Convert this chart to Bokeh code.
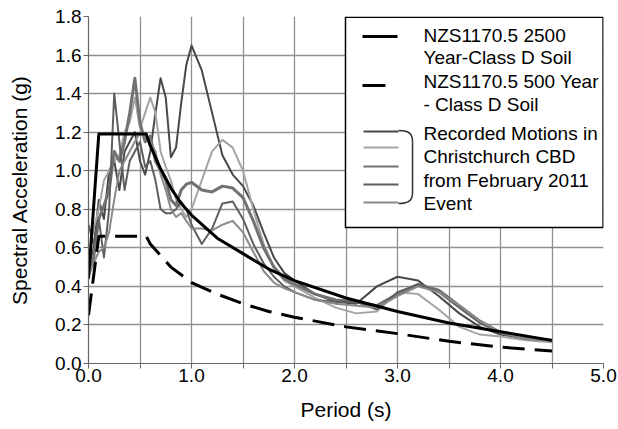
from bokeh.plotting import figure
from bokeh.models import Range1d, FixedTicker
from bokeh.embed import file_html
from bokeh.resources import INLINE
from bokeh.core.properties import value

# ---------------- data ----------------
design_period = [0.0, 0.1, 0.56, 0.6, 0.7, 0.8, 0.9, 1.0, 1.25, 1.5, 1.75, 2.0, 2.5, 3.0, 3.5, 4.0, 4.5]
nzs_2500 = [0.44, 1.19, 1.19, 1.13, 1.01, 0.91, 0.83, 0.77, 0.65, 0.57, 0.49, 0.43, 0.34, 0.27, 0.21, 0.165, 0.12]
nzs_500 = [0.25, 0.66, 0.66, 0.62, 0.56, 0.50, 0.46, 0.42, 0.36, 0.31, 0.27, 0.24, 0.19, 0.155, 0.115, 0.085, 0.065]

rec_period = [0.0, 0.05, 0.1, 0.15, 0.2, 0.25, 0.3, 0.35, 0.4, 0.45, 0.5, 0.55, 0.6, 0.65, 0.7, 0.75,
              0.8, 0.85, 0.9, 0.95, 1.0, 1.1, 1.2, 1.3, 1.4, 1.5, 1.6, 1.7, 1.8, 1.9, 2.0, 2.2, 2.4,
              2.6, 2.8, 3.0, 3.2, 3.4, 3.6, 3.8, 4.0, 4.25, 4.5]
rec_1 = [0.50, 0.60, 0.85, 0.75, 1.00, 1.05, 0.90, 1.10, 1.15, 1.20, 1.05, 0.98, 1.10, 1.30, 1.48, 1.38,
         1.07, 1.12, 1.35, 1.55, 1.65, 1.52, 1.30, 1.08, 0.98, 0.92, 0.82, 0.68, 0.55, 0.47, 0.43, 0.36, 0.32,
         0.31, 0.40, 0.45, 0.43, 0.35, 0.26, 0.19, 0.15, 0.13, 0.12]
rec_2 = [0.55, 0.70, 0.80, 0.95, 1.00, 1.05, 1.08, 1.20, 1.25, 1.38, 1.22, 1.30, 1.38, 1.30, 1.10, 1.02,
         0.95, 0.85, 0.80, 0.76, 0.80, 0.95, 1.10, 1.16, 1.12, 1.00, 0.80, 0.62, 0.50, 0.43, 0.40, 0.34, 0.29,
         0.26, 0.27, 0.37, 0.36, 0.28, 0.19, 0.15, 0.14, 0.12, 0.11]
rec_3 = [0.48, 0.55, 0.75, 0.82, 0.90, 1.10, 1.05, 1.15, 1.30, 1.48, 1.25, 1.15, 1.18, 1.05, 1.00, 0.95,
         0.85, 0.82, 0.90, 0.93, 0.94, 0.90, 0.89, 0.92, 0.91, 0.86, 0.74, 0.60, 0.50, 0.44, 0.41, 0.36, 0.33,
         0.32, 0.30, 0.36, 0.41, 0.38, 0.30, 0.22, 0.16, 0.13, 0.12]
rec_4 = [0.72, 0.62, 0.75, 0.55, 0.80, 1.40, 1.15, 0.90, 1.05, 1.10, 1.15, 1.02, 1.05, 0.95, 0.80, 0.78,
         0.78, 0.80, 0.84, 0.80, 0.72, 0.62, 0.70, 0.83, 0.84, 0.75, 0.62, 0.52, 0.45, 0.40, 0.37, 0.33, 0.32,
         0.32, 0.28, 0.37, 0.41, 0.37, 0.29, 0.21, 0.16, 0.13, 0.12]
rec_5 = [0.45, 0.52, 0.58, 0.60, 0.68, 0.85, 1.00, 1.05, 1.10, 1.15, 1.20, 1.18, 1.15, 1.10, 0.98, 0.90,
         0.80, 0.76, 0.78, 0.74, 0.70, 0.70, 0.69, 0.72, 0.74, 0.68, 0.58, 0.48, 0.42, 0.39, 0.37, 0.33, 0.31,
         0.30, 0.29, 0.35, 0.40, 0.37, 0.30, 0.22, 0.16, 0.13, 0.12]

x_ticks = [0, 1, 2, 3, 4, 5]
y_ticks = [0.0, 0.2, 0.4, 0.6, 0.8, 1.0, 1.2, 1.4, 1.6, 1.8]
x_tick_labels = ["0.0", "1.0", "2.0", "3.0", "4.0", "5.0"]

legend_lines = ["NZS1170.5 2500", "Year-Class D Soil", "NZS1170.5 500 Year", "- Class D Soil",
                "Recorded Motions in", "Christchurch CBD", "from February 2011", "Event"]

# ---------------- figure ----------------
FONT = "Liberation Sans"
p = figure(width=618, height=429, x_range=Range1d(0, 5), y_range=Range1d(0, 1.8),
           output_backend="svg", toolbar_location=None,
           min_border_left=88, min_border_right=15, min_border_top=16, min_border_bottom=66)
p.outline_line_color = None
p.background_fill_color = "white"

p.xaxis.ticker = FixedTicker(ticks=x_ticks, minor_ticks=[0.5, 1.5, 2.5, 3.5, 4.5])
p.xaxis.major_label_overrides = {t: l for t, l in zip(x_ticks, x_tick_labels)}
p.yaxis.ticker = FixedTicker(ticks=y_ticks)
p.yaxis.major_label_overrides = {t: f"{t:.1f}" for t in y_ticks}

for ax in (p.xaxis, p.yaxis):
    ax.axis_line_color = "#666666"
    ax.axis_line_width = 1.2
    ax.major_tick_line_color = "#666666"
    ax.minor_tick_line_color = "#666666"
    ax.major_tick_in = 0
    ax.major_tick_out = 5
    ax.minor_tick_in = 0
    ax.minor_tick_out = 5
    ax.major_label_text_font = FONT
    ax.major_label_text_font_size = "19px"
    ax.major_label_text_color = "black"
    ax.axis_label_text_font = FONT
    ax.axis_label_text_font_size = "21px"
    ax.axis_label_text_font_style = "normal"
    ax.axis_label_text_color = "black"

p.yaxis.minor_tick_line_color = None
p.xaxis.axis_label = "Period (s)"
p.yaxis.axis_label = "Spectral Acceleration (g)"
p.xaxis.major_label_standoff = 0
p.xaxis.axis_label_standoff = 13
p.yaxis.major_label_standoff = 2
p.yaxis.axis_label_standoff = 21

grid_color = "#8f8f8f"
p.xgrid.grid_line_color = grid_color
p.xgrid.grid_line_width = 1.3
p.xgrid.minor_grid_line_color = grid_color
p.xgrid.minor_grid_line_width = 1.3
p.ygrid.grid_line_color = grid_color
p.ygrid.grid_line_width = 1.3

# recorded motions
rec_series = [rec_1, rec_2, rec_3, rec_4, rec_5]
rec_colors = ["#484848", "#a4a4a4", "#727272", "#5f5f5f", "#8a8a8a"]
rec_widths = [2, 2, 3, 2, 2]
for vals, c, w in zip(rec_series, rec_colors, rec_widths):
    p.line(rec_period, vals, line_color=c, line_width=w, line_join="round")

# design spectra
p.line(design_period, nzs_2500, line_color="black", line_width=3, line_join="round")
p.line(design_period, nzs_500, line_color="black", line_width=3, line_dash="22 10")

# ---------------- legend (drawn manually) ----------------
p.quad(left=2.495, right=4.996, top=1.796, bottom=0.705, fill_color="white",
       line_color="black", line_width=1.5)
p.line([2.66, 3.0], [1.696, 1.696], line_color="black", line_width=3)
p.line([2.66, 2.883], [1.442, 1.442], line_color="black", line_width=3)
sample_y = [1.203, 1.120, 1.022, 0.928, 0.835]
for yy, c in zip(sample_y, rec_colors):
    p.line([2.67, 3.01], [yy, yy], line_color=c, line_width=2)
# bracket
p.bezier(x0=[3.01], y0=[1.208], x1=[3.146], y1=[1.15], cx0=[3.12], cy0=[1.208], cx1=[3.146], cy1=[1.19],
         line_color="#333333", line_width=1.5)
p.line([3.146, 3.146], [1.15, 0.89], line_color="#333333", line_width=1.5)
p.bezier(x0=[3.146], y0=[0.89], x1=[3.01], y1=[0.830], cx0=[3.146], cy0=[0.85], cx1=[3.12], cy1=[0.830],
         line_color="#333333", line_width=1.5)

text_y = [1.701, 1.587, 1.463, 1.344, 1.193, 1.074, 0.950, 0.830]
p.text(x=[3.252] * len(legend_lines), y=text_y, text=legend_lines, text_font=value(FONT),
       text_font_size="19px", text_baseline="middle", text_align="left", text_color="black")

open("out.html", "w").write(file_html(p, INLINE))
